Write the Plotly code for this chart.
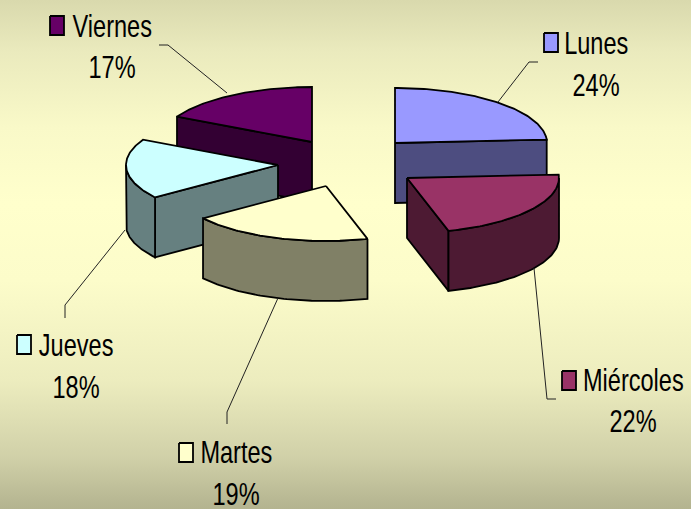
import numpy as np
import plotly.graph_objects as go

# Data (unrounded shares estimated from the slice edges; labels show them rounded)
categories = ["Lunes", "Miércoles", "Martes", "Jueves", "Viernes"]
percentages = [24.0, 21.6, 19.4, 17.6, 17.4]

# Styles
top_colors = ["#9999FF", "#993366", "#FFFFCC", "#CCFFFF", "#660066"]
side_colors = ["#4D4D80", "#4D1A33", "#808066", "#668080", "#330033"]
# apex of each exploded slice on the canvas
apex_x = [395, 407, 326, 278, 312]
apex_y = [143, 178, 186, 165, 142]
RX, RY, DEPTH = 152, 55, 60
draw_order = [4, 0, 3, 1, 2]

key_x = [544, 562, 179, 17, 50]
key_y = [33, 371, 443, 335, 16]
label_x = [596, 633, 236, 76, 112]
name_y = [43, 380, 452, 345, 26]
pct_y = [85, 421, 494, 387, 67]
leader_x = [[538, 529, 498], [534, 547, 556], [278, 227, 227], [125, 65, 65], [159, 168, 227]]
leader_y = [[62, 62, 102], [268, 399, 399], [298, 412, 424], [230, 305, 318], [45, 45, 93]]

FONT = "Liberation Sans, Arial"
W, H = 691, 509

fig = go.Figure()

# background gradient
fig.add_trace(go.Scatter(
    x=[0, W, W, 0, 0], y=[0, 0, H, H, 0], mode="none", fill="toself",
    fillgradient=dict(type="vertical", colorscale=[
        [0, "#B3B38F"], [0.1, "#D0D0A8"], [0.25, "#ECECBE"], [0.45, "#FCFCCA"],
        [0.6, "#FFFFCC"], [0.75, "#F9F9C8"], [0.9, "#EAEABD"], [1, "#D9D9AD"]]),
    hoverinfo="skip", showlegend=False))


def poly(xs, ys, color, width=1.8):
    fig.add_trace(go.Scatter(x=list(xs), y=list(ys), mode="lines", fill="toself",
                             fillcolor=color, line=dict(color="black", width=width),
                             hoverinfo="skip", showlegend=False))


edges = np.cumsum([0] + percentages) * 3.6
for i in draw_order:
    a, b = edges[i], edges[i + 1]
    cx, cy = apex_x[i], apex_y[i]

    def px(t):
        return cx + RX * np.sin(np.radians(t))

    def py(t):
        return cy - RY * np.cos(np.radians(t))

    for t, visible in ((a, 180 < a < 360), (b, 0 < b < 180)):
        if visible:
            poly([cx, px(t), px(t), cx, cx],
                 [cy, py(t), py(t) + DEPTH, cy + DEPTH, cy], side_colors[i])
    lo, hi = max(a, 90), min(b, 270)
    if lo < hi:
        w = np.linspace(lo, hi, 60)
        poly(np.r_[px(w), px(w)[::-1], px(w)[0]],
             np.r_[py(w), py(w)[::-1] + DEPTH, py(w)[0]], side_colors[i])
    w = np.linspace(a, b, 80)
    poly(np.r_[cx, px(w), cx], np.r_[cy, py(w), cy], top_colors[i])

annotations = []
for i, name in enumerate(categories):
    fig.add_trace(go.Scatter(x=leader_x[i], y=leader_y[i], mode="lines",
                             line=dict(color="#222222", width=1),
                             hoverinfo="skip", showlegend=False))
    kx, ky = key_x[i], key_y[i]
    poly([kx, kx + 14, kx + 14, kx, kx], [ky, ky, ky + 19, ky + 19, ky], top_colors[i], 1.8)
    for text, y in ((name, name_y[i]), (f"{round(percentages[i])}%", pct_y[i])):
        annotations.append(dict(x=label_x[i], y=y, text=text, xanchor="center", yanchor="middle",
                                showarrow=False, xref="x", yref="y",
                                font=dict(family=FONT, size=31, color="black")))

fig.update_layout(
    width=W, height=H, margin=dict(l=0, r=0, t=0, b=0),
    paper_bgcolor="#FFFFCC", plot_bgcolor="#FFFFCC",
    xaxis=dict(range=[0, W], visible=False, fixedrange=True),
    yaxis=dict(range=[H, 0], visible=False, fixedrange=True),
    annotations=annotations, showlegend=False)

# Flush the figure with the window and narrow the label glyphs like the condensed original.
post = """
document.documentElement.style.margin='0';
document.documentElement.style.overflow='hidden';
document.body.style.margin='0';
document.body.style.overflow='hidden';
document.querySelectorAll('.annotation-text').forEach(function(el){
  var b = el.getBBox();
  var c = b.x + b.width/2;
  el.setAttribute('transform','translate('+c+',0) scale(0.76,1) translate('+(-c)+',0)');
});
"""
fig.write_html("out.html", config={"displayModeBar": False}, post_script=post)
